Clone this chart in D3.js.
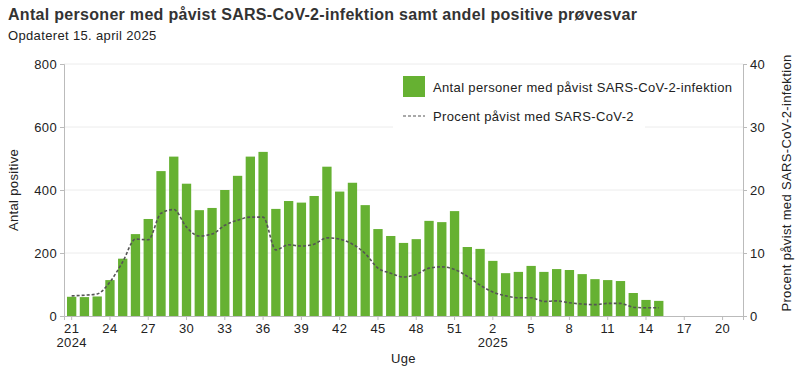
<!DOCTYPE html>
<html>
<head>
<meta charset="utf-8">
<script src="https://cdn.jsdelivr.net/npm/d3@7"></script>
<style>
  body { margin: 0; background: #fff; }
  svg { font-family: "Liberation Sans", Arial, sans-serif; }
  svg text { letter-spacing: 0.35px; }
</style>
</head>
<body>
<div id="chart"></div>
<script>
// week categories: 2024 wk21 .. 2025 wk21
const weeks2024 = [21, 22, 23, 24, 25, 26, 27, 28, 29, 30, 31, 32, 33, 34, 35, 36,
    37, 38, 39, 40, 41, 42, 43, 44, 45, 46, 47, 48, 49, 50, 51, 52];
const weeks2025 = [1, 2, 3, 4, 5, 6, 7, 8, 9, 10, 11, 12, 13, 14, 15, 16, 17, 18, 19, 20, 21];

// antal personer med påvist SARS-CoV-2 (2024 wk21 .. 2025 wk15)
const positives = [61, 60, 62, 114, 182, 260, 308, 460, 506, 420,
    336, 343, 400, 445, 506, 521, 340, 365, 360, 381,
    474, 395, 423, 352, 276, 254, 232, 244, 302, 298,
    333, 219, 213, 175, 136, 140, 159, 140, 149, 146,
    133, 117, 114, 111, 73, 51, 48];

// procent positive prøvesvar
const percent = [3.2, 3.3, 3.5, 5.4, 8.6, 12.2, 12.1, 16.3, 16.9, 14.1,
    12.7, 13.0, 14.4, 15.2, 15.7, 15.7, 10.5, 11.3, 11.1, 11.4,
    12.4, 12.2, 11.4, 9.9, 7.6, 6.8, 6.2, 6.6, 7.6, 7.8,
    7.4, 6.3, 4.9, 3.8, 3.2, 2.9, 2.9, 2.3, 2.4, 2.1,
    1.9, 1.8, 2.0, 2.0, 1.4, 1.3, 1.3];

const leftTicks = [0, 200, 400, 600, 800];
const rightTicks = [0, 10, 20, 30, 40];

const title = "Antal personer med påvist SARS-CoV-2-infektion samt andel positive prøvesvar";
const subtitle = "Opdateret 15. april 2025";
const barLabel = "Antal personer med påvist SARS-CoV-2-infektion";
const lineLabel = "Procent påvist med SARS-CoV-2";

const categories = weeks2024.map(w => "2024-" + w).concat(weeks2025.map(w => "2025-" + w));
const data = positives.map((v, i) => ({ key: categories[i], count: v, pct: percent[i] }));

const W = 800, H = 375;
const margin = { top: 64, right: 57, bottom: 59, left: 64 };
const innerW = W - margin.left - margin.right;
const innerH = H - margin.top - margin.bottom;

const green = "#66b132";
const axisColor = "#bbbbbb";
const textColor = "#222222";

const svg = d3.select("#chart").append("svg")
    .attr("width", W)
    .attr("height", H);

// title + subtitle
svg.append("text")
    .attr("x", 8)
    .attr("y", 20)
    .style("font-size", "16px")
    .style("font-weight", "bold")
    .style("fill", "#333")
    .style("letter-spacing", "0.3px")
    .text(title);

svg.append("text")
    .attr("x", 8)
    .attr("y", 40)
    .style("font-size", "13px")
    .style("fill", textColor)
    .text(subtitle);

const g = svg.append("g")
    .attr("transform", `translate(${margin.left},${margin.top})`);

const x = d3.scaleBand()
    .domain(categories)
    .range([0, innerW])
    .paddingInner(0.27)
    .paddingOuter(0.235);

const y = d3.scaleLinear().domain([0, 800]).range([innerH, 0]);
const y2 = d3.scaleLinear().domain([0, 40]).range([innerH, 0]);

// gridlines
g.append("g")
    .selectAll("line")
    .data(leftTicks.slice(1))
    .enter().append("line")
    .attr("x1", 0)
    .attr("x2", innerW)
    .attr("y1", d => y(d))
    .attr("y2", d => y(d))
    .style("stroke", "#ececec")
    .style("stroke-width", 1);

// bars
g.append("g")
    .selectAll("rect")
    .data(data)
    .enter().append("rect")
    .attr("x", d => x(d.key))
    .attr("y", d => y(d.count))
    .attr("width", x.bandwidth())
    .attr("height", d => innerH - y(d.count))
    .style("fill", green);

// percent line
const line = d3.line()
    .x(d => x(d.key) + x.bandwidth() / 2)
    .y(d => y2(d.pct))
    .curve(d3.curveMonotoneX);

g.append("path")
    .datum(data)
    .attr("d", line)
    .style("fill", "none")
    .style("stroke", "#555")
    .style("stroke-width", 1.6)
    .style("stroke-dasharray", "3,2");

// left axis
const yAxis = g.append("g")
    .call(d3.axisLeft(y).tickValues(leftTicks).tickSize(4).tickPadding(3));

// right axis
const y2Axis = g.append("g")
    .attr("transform", `translate(${innerW},0)`)
    .call(d3.axisRight(y2).tickValues(rightTicks).tickSize(4).tickPadding(3));

// bottom axis
const tickKeys = categories.filter((d, i) => i % 3 === 0 && i < 52);
const xAxis = g.append("g")
    .attr("transform", `translate(0,${innerH})`)
    .call(d3.axisBottom(x).tickValues(tickKeys).tickSize(4).tickPadding(4)
        .tickFormat(d => d.split("-")[1]));

[yAxis, y2Axis, xAxis].forEach(a => {
    a.select(".domain").style("stroke", axisColor);
    a.selectAll(".tick line").style("stroke", axisColor);
    a.selectAll("text")
        .style("font-size", "13px")
        .style("fill", textColor)
        .style("font-family", "'Liberation Sans', Arial, sans-serif");
});

// year labels under first week of each year
xAxis.selectAll(".tick")
    .filter(d => d === "2024-21" || d === "2025-2")
    .append("text")
    .attr("y", 22)
    .attr("dy", "0.71em")
    .attr("text-anchor", "middle")
    .style("font-size", "13px")
    .style("fill", textColor)
    .text(d => d.split("-")[0]);

// axis titles
svg.append("text")
    .attr("x", (margin.left + margin.left + innerW) / 2)
    .attr("y", 363)
    .attr("text-anchor", "middle")
    .style("font-size", "13px")
    .style("fill", textColor)
    .text("Uge");

svg.append("text")
    .attr("transform", "translate(18,190) rotate(-90)")
    .attr("text-anchor", "middle")
    .style("font-size", "13px")
    .style("fill", textColor)
    .text("Antal positive");

svg.append("text")
    .attr("transform", "translate(791,183) rotate(-90)")
    .attr("text-anchor", "middle")
    .style("font-size", "13px")
    .style("fill", textColor)
    .text("Procent påvist med SARS-CoV-2-infektion");

// legend
const legend = g.append("g")
    .attr("transform", "translate(329,4)");

legend.append("rect")
    .attr("x", 0)
    .attr("y", 0)
    .attr("width", 252)
    .attr("height", 62)
    .style("fill", "#fff");

legend.append("rect")
    .attr("x", 10)
    .attr("y", 8)
    .attr("width", 22)
    .attr("height", 21)
    .style("fill", green);

legend.append("text")
    .attr("x", 40)
    .attr("y", 19)
    .attr("dy", "0.35em")
    .style("font-size", "13px")
    .style("fill", textColor)
    .text(barLabel);

legend.append("line")
    .attr("x1", 10)
    .attr("x2", 32)
    .attr("y1", 48)
    .attr("y2", 48)
    .style("stroke", "#555")
    .style("stroke-width", 1.2)
    .style("stroke-dasharray", "3,2");

legend.append("text")
    .attr("x", 40)
    .attr("y", 48)
    .attr("dy", "0.35em")
    .style("font-size", "13px")
    .style("fill", textColor)
    .text(lineLabel);
</script>
</body>
</html>
